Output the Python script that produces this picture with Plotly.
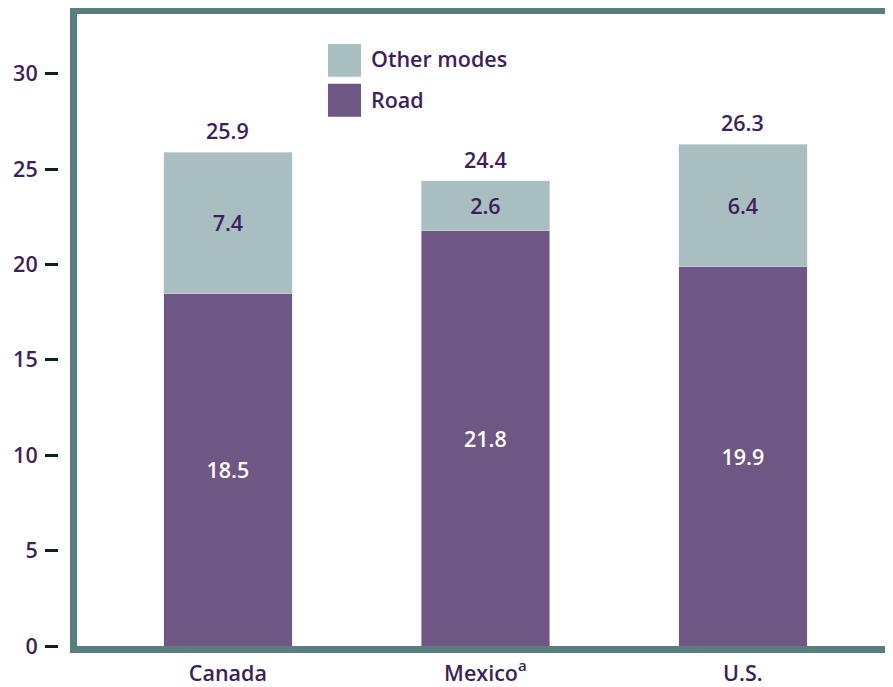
import plotly.graph_objects as go

categories = ["Canada", "Mexico<sup>a</sup>", "U.S."]
road = [18.5, 21.8, 19.9]
other_modes = [7.4, 2.6, 6.4]
totals = [25.9, 24.4, 26.3]
y_ticks = [0, 5, 10, 15, 20, 25, 30]

ROAD_C = "#6e5784"
OTHER_C = "#a9bec1"
BORDER_C = "#5a7e80"
TEXT_C = "#3d1f5a"
FONT = "Open Sans"
FS = 21.5
W = 600

fig = go.Figure()
fig.add_trace(go.Bar(
    x=categories, y=road, name="Road", marker_color=ROAD_C, width=0.5,
    text=[f"{v:.1f}" for v in road], textposition="inside", insidetextanchor="middle",
    textfont=dict(color="white", size=FS, family=FONT, weight=W), showlegend=False,
))
fig.add_trace(go.Bar(
    x=categories, y=other_modes, name="Other modes", marker_color=OTHER_C, width=0.5,
    text=[f"{v:.1f}" for v in other_modes], textposition="inside", insidetextanchor="middle",
    textfont=dict(color=TEXT_C, size=FS, family=FONT, weight=W), showlegend=False,
))

for c, t in zip(categories, totals):
    fig.add_annotation(x=c, y=t, text=f"{t:.1f}", showarrow=False, yanchor="bottom",
                       yshift=5, font=dict(color=TEXT_C, size=FS, family=FONT, weight=W))

# border (left, top, bottom)
shape_common = dict(type="rect", fillcolor=BORDER_C, line_width=0, layer="above")
fig.add_shape(xref="paper", yref="paper", xsizemode="pixel", ysizemode="pixel",
              xanchor=0, yanchor=0, x0=11, x1=18, y0=-7, y1=641, **shape_common)
fig.add_shape(xref="paper", yref="paper", xsizemode="pixel", ysizemode="pixel",
              xanchor=0, yanchor=1, x0=11, x1=900, y0=0, y1=7, **shape_common)
fig.add_shape(xref="paper", yref="paper", xsizemode="pixel", ysizemode="pixel",
              xanchor=0, yanchor=0, x0=11, x1=900, y0=-7, y1=0, **shape_common)

# legend
legend_items = [("Other modes", OTHER_C, 0.9527, 0.9006, 0.9290),
                ("Road", ROAD_C, 0.8896, 0.8375, 0.8644)]
for name, col, ytop, ybot, ymid in legend_items:
    fig.add_shape(type="rect", xref="paper", yref="paper", x0=0.3225, x1=0.3621,
                  y0=ybot, y1=ytop, fillcolor=col, line_width=0)
    fig.add_annotation(xref="paper", yref="paper", x=0.3717, y=ymid, text=name,
                       showarrow=False, xanchor="left", yanchor="middle",
                       font=dict(color=TEXT_C, size=FS, family=FONT, weight=W))

fig.update_layout(
    barmode="stack", width=885, height=679,
    margin=dict(l=51, r=0, t=6, b=39),
    plot_bgcolor="white", paper_bgcolor="white",
    font=dict(family=FONT, color=TEXT_C, size=FS, weight=W),
    showlegend=False,
)
fig.update_xaxes(range=[-0.656, 2.583], showgrid=False, zeroline=False, showline=False,
                 ticks="", ticklabelstandoff=12,
                 tickfont=dict(size=FS, color=TEXT_C, family=FONT, weight=W))
fig.update_yaxes(range=[0, 33.14], tickvals=y_ticks, showgrid=False, zeroline=False,
                 showline=False, ticks="outside", ticklen=13, tickwidth=3, tickcolor="#0d1f1f",
                 ticklabelstandoff=3,
                 tickfont=dict(size=FS, color=TEXT_C, family=FONT, weight=W))

fig.write_html("out.html")
